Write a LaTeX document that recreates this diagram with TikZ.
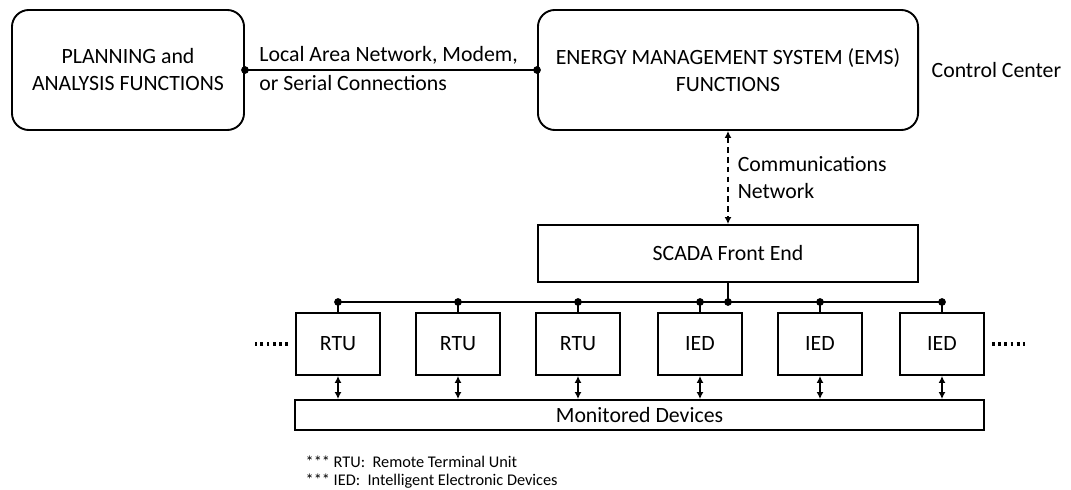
\documentclass[tikz,border=0pt]{standalone}
\usepackage{fontspec}
\setmainfont{Carlito}
\usetikzlibrary{arrows.meta,positioning}

\begin{document}
\begin{tikzpicture}[
    x=0.025cm, y=-0.025cm,
    font=\fontsize{15.5}{19.2}\selectfont,
    line width=1.35pt,
    >={Latex[length=5pt,width=5pt]},
    func/.style={
		rectangle,
		rounded corners=12pt,
		draw=black,
		align=center,
		minimum width=5.8cm,
		minimum height=3cm
	},
    box/.style={
		rectangle,
		draw=black,
		align=center
	},
    dev/.style={
		box,
		minimum width=2.1cm,
		minimum height=1.55cm
	},
    joint/.style={
		circle,
		fill=black,
		inner sep=0pt,
		minimum size=5.5pt
	},
    dots/.style={
		line width=2.3pt,
		dash pattern=on 2pt off 2.4pt
	},
    note/.style={
		anchor=west,
		font=\fontsize{11.6}{13}\selectfont
	}
  ]
  \useasboundingbox (0,0) rectangle (1071,490);

  % control center blocks
  \node [func] (plan) at (128,70) {PLANNING and\\ANALYSIS FUNCTIONS};
  \node [func, minimum width=9.5cm] (ems) at (728,70)
    {ENERGY MANAGEMENT SYSTEM (EMS)\\FUNCTIONS};
  \node [anchor=west] (cc) at (926,70) {Control Center};

  \draw (plan.east) -- node [anchor=south west, pos=0.03] (lan1) {Local Area Network, Modem,}
    node [anchor=north west, pos=0.03] (lan2) {or Serial Connections} (ems.west);
  \node [joint] (jp) at (plan.east) {};
  \node [joint] (je) at (ems.west) {};

  % front end
  \node [box, minimum width=9.5cm, minimum height=1.425cm] (scada) at (728,253.5) {SCADA Front End};
  \draw [<->, dash pattern=on 4pt off 3pt] (ems.south) -- node [right, xshift=3pt, align=left] (comm)
    {Communications\\Network} (scada.north);

  % field devices
  \node [box, minimum width=17.225cm, minimum height=0.75cm] (mon) at (639.5,415) {Monitored Devices};
  \coordinate (busl) at (338,302);
  \coordinate (busr) at (942,302);
  \draw (busl) -- (busr);
  \draw (scada.south) -- (scada.south |- busl);
  \node [joint] (js) at (scada.south |- busl) {};

  \foreach \n/\x/\t in {rtua/338/RTU, rtub/458/RTU, rtuc/578/RTU,
                        ieda/700/IED, iedb/820/IED, iedc/942/IED} {
    \node [dev] (\n) at (\x,344) {\t};
    \draw (\n.north) -- (\n.north |- busl);
    \node [joint] (j\n) at (\n.north |- busl) {};
    \draw [<->] (\n.south) -- (\n.south |- mon.north);
  }

  \draw [dots] (rtua.west) ++(-7,0) -- ++(-33,0);
  \draw [dots] (iedc.east) ++(7,0) -- ++(33,0);

  % legend
  \node [note] (fn1) at (300,462) {*** RTU:\ \ Remote Terminal Unit};
  \node [note] (fn2) at (300,481) {*** IED:\ \ Intelligent Electronic Devices};

\end{tikzpicture}
\end{document}
